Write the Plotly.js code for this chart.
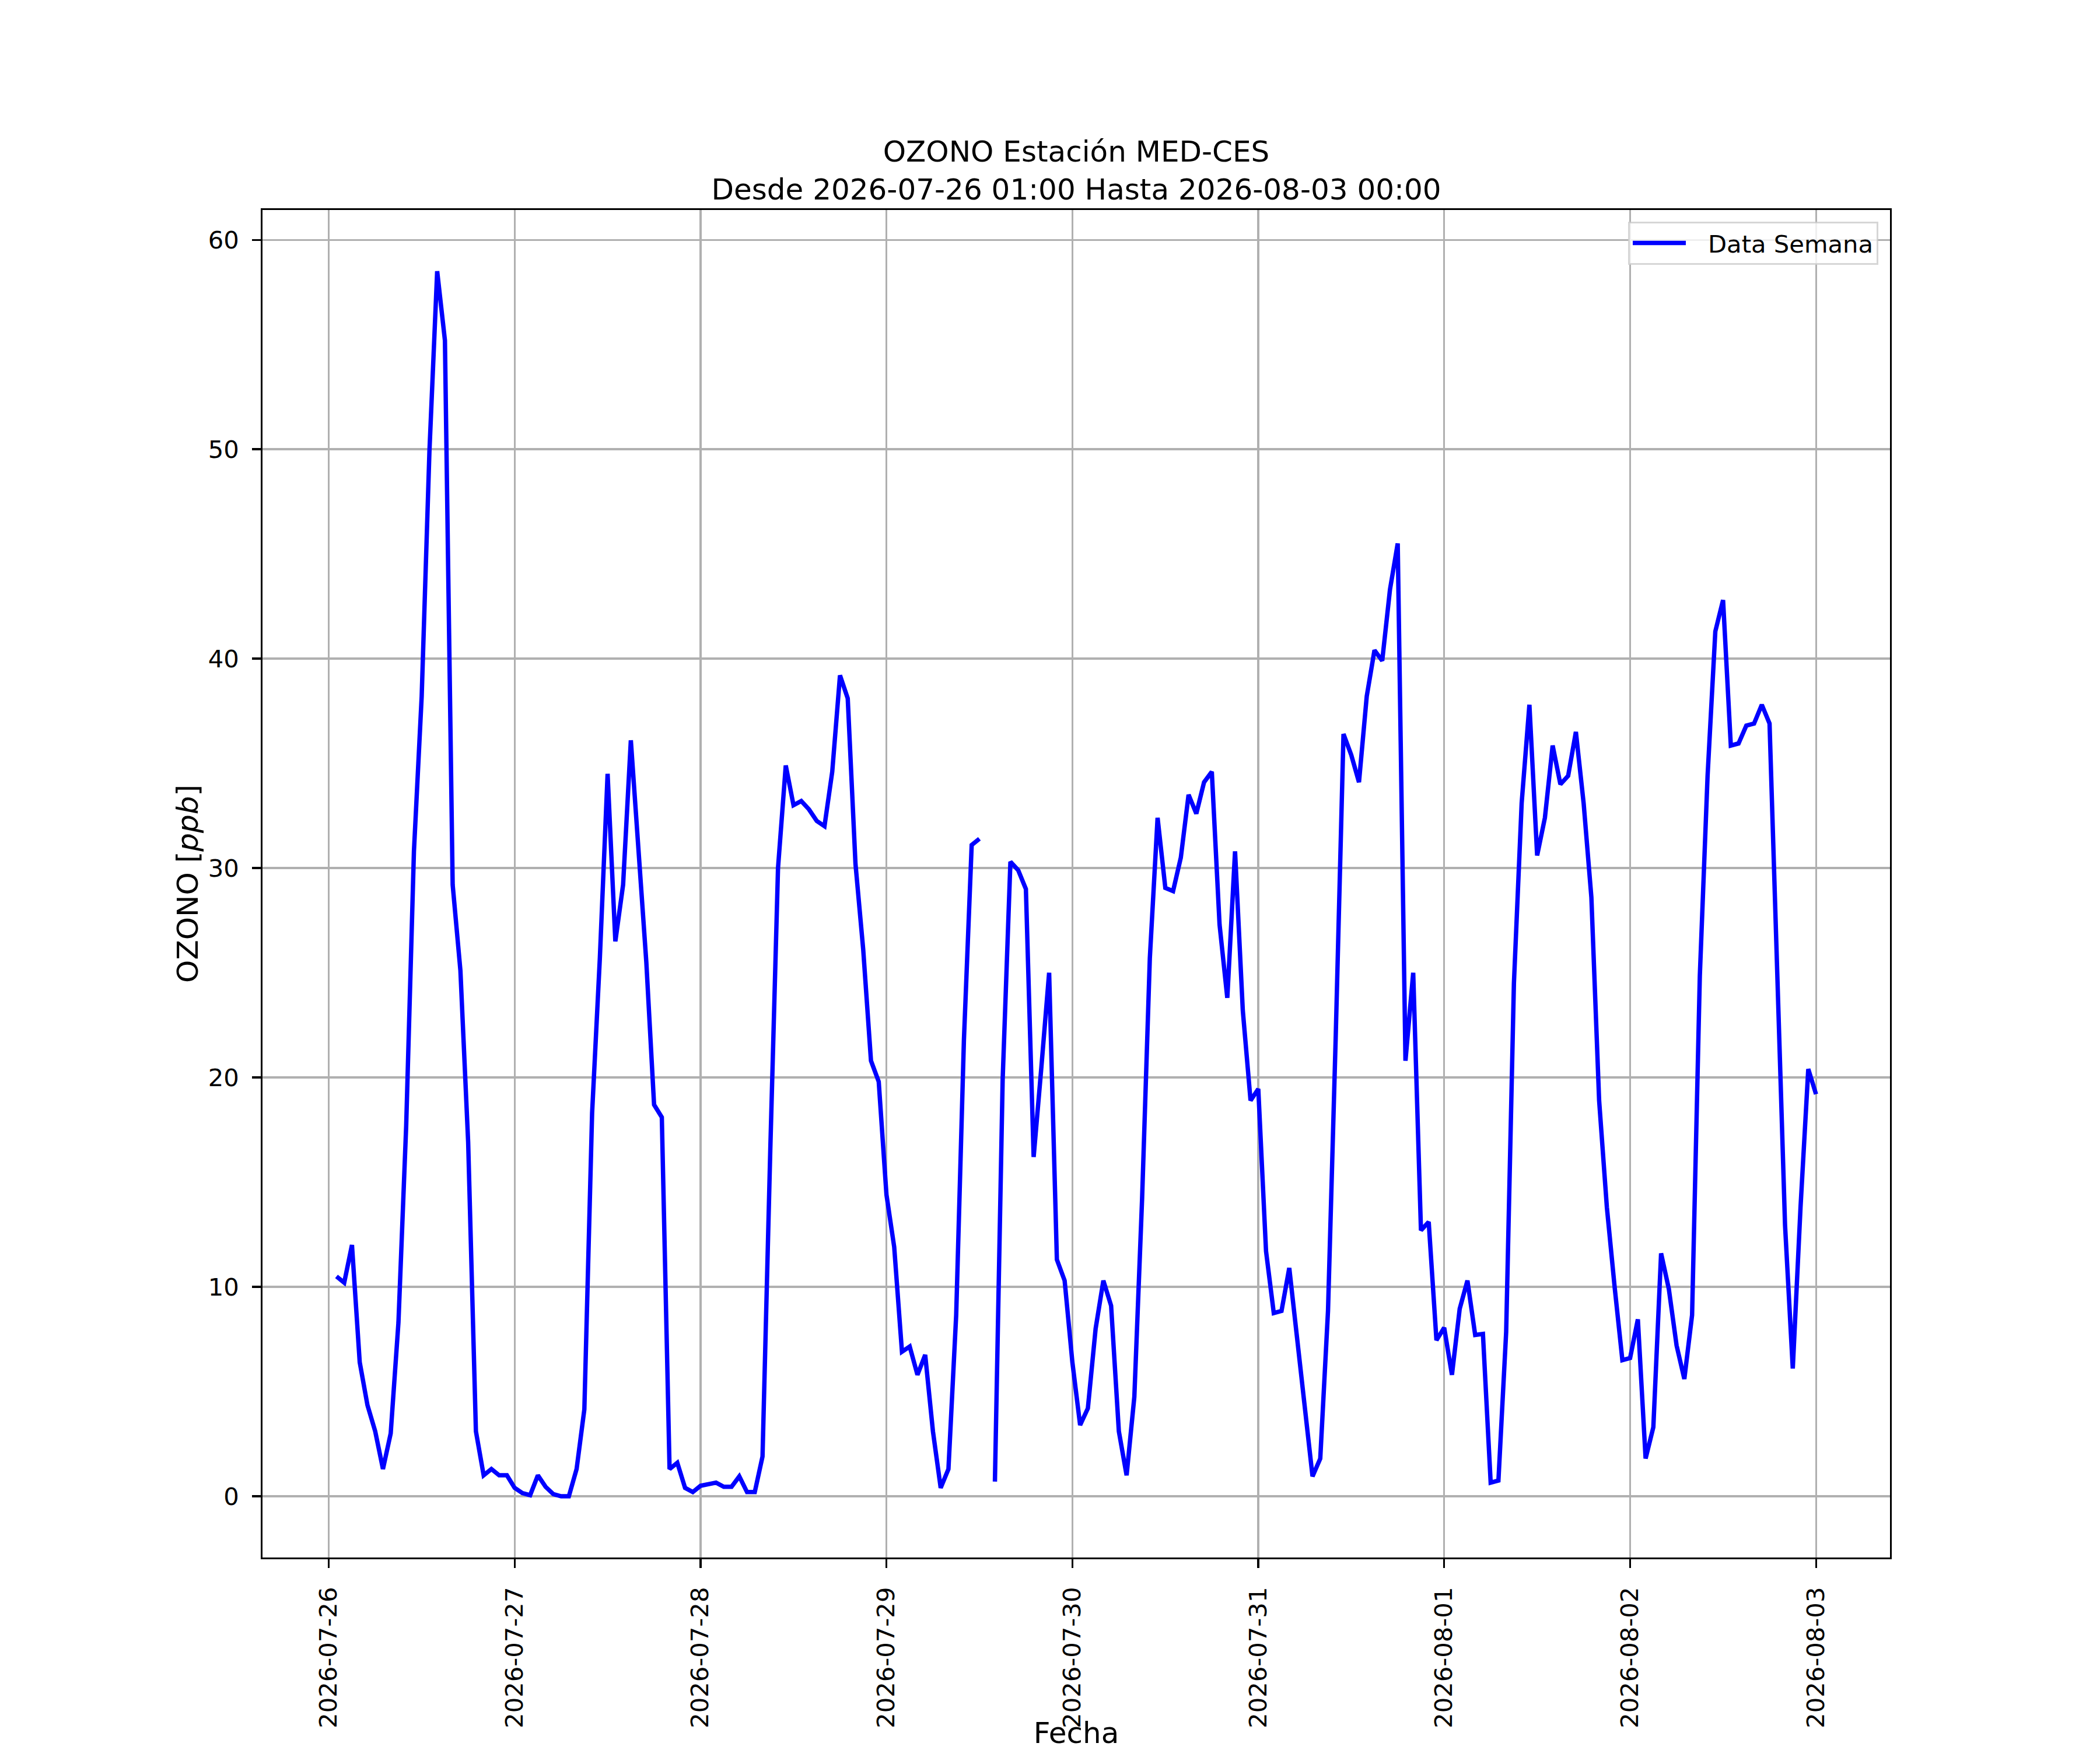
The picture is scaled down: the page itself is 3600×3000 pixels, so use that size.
<!DOCTYPE html>
<html>
<head>
<meta charset="utf-8">
<script src="https://cdn.plot.ly/plotly-3.0.1.min.js"></script>
<style>
  html, body { margin: 0; padding: 0; background: #ffffff; }
  #chart { width: 3600px; height: 3000px; }
</style>
</head>
<body>
<div id="chart"></div>
<script>
// Hourly ozone values, each array covers 01:00 of that day through 00:00 of the next day
const days = ['2026-07-26','2026-07-27','2026-07-28','2026-07-29','2026-07-30','2026-07-31','2026-08-01','2026-08-02'];
const day0726 = [10.5, 10.2, 12.0, 6.4, 4.35, 3.1, 1.3, 3.0, 8.3, 17.7, 30.8, 38.2, 49.9, 58.5, 55.2, 29.2, 25.1, 16.9, 3.1, 1.0, 1.3, 1.0, 1.0, 0.4];
const day0727 = [0.15, 0.05, 1.0, 0.45, 0.1, 0.0, 0.0, 1.3, 4.15, 18.3, 25.7, 34.5, 26.5, 29.2, 36.1, 30.4, 25.5, 18.7, 18.1, 1.3, 1.6, 0.4, 0.2, 0.5];
const day0728 = [0.6, 0.65, 0.45, 0.45, 0.95, 0.2, 0.2, 1.9, 16.5, 30.0, 34.9, 33.0, 33.2, 32.8, 32.25, 32.0, 34.6, 39.2, 38.1, 30.2, 26.1, 20.8, 19.8, 14.4];
const day0729 = [11.9, 6.9, 7.15, 5.8, 6.75, 3.1, 0.4, 1.3, 8.65, 21.8, 31.1, 31.4, null, 0.7, 19.9, 30.3, 29.9, 29.0, 16.2, 20.5, 25.0, 11.3, 10.3, 6.4];
const day0730 = [3.4, 4.2, 8.0, 10.3, 9.1, 3.1, 1.0, 4.75, 14.2, 25.7, 32.4, 29.05, 28.9, 30.5, 33.5, 32.6, 34.1, 34.6, 27.3, 23.8, 30.8, 23.2, 18.9, 19.45];
const day0731 = [11.7, 8.75, 8.85, 10.9, 7.6, 4.35, 0.95, 1.8, 8.85, 22.0, 36.4, 35.4, 34.1, 38.2, 40.4, 39.9, 43.3, 45.5, 20.8, 25.0, 12.7, 13.1, 7.45, 8.05];
const day0801 = [5.8, 8.95, 10.3, 7.7, 7.75, 0.65, 0.75, 7.85, 24.5, 33.1, 37.8, 30.6, 32.4, 35.85, 34.0, 34.4, 36.5, 33.1, 28.6, 18.9, 13.8, 10.0, 6.5, 6.6];
const day0802 = [8.45, 1.8, 3.3, 11.6, 9.9, 7.2, 5.6, 8.65, 24.85, 34.4, 41.3, 42.8, 35.85, 35.95, 36.8, 36.9, 37.8, 36.9, 24.9, 12.95, 6.1, 13.8, 20.4, 19.2];
const dayValues = [day0726, day0727, day0728, day0729, day0730, day0731, day0801, day0802];

const tickLabels = ['2026-07-26','2026-07-27','2026-07-28','2026-07-29','2026-07-30','2026-07-31','2026-08-01','2026-08-02','2026-08-03'];
const yTicks = [0, 10, 20, 30, 40, 50, 60];

const titleText = 'OZONO Estación MED-CES<br>Desde 2026-07-26 01:00 Hasta 2026-08-03 00:00';
const seriesName = 'Data Semana';

// Build timestamps (hour 1..24 of each day)
const xs = [];
const ys = [];
function pad(n) { return (n < 10 ? '0' : '') + n; }
days.forEach((d, i) => {
  const base = new Date(d + 'T00:00:00Z').getTime();
  dayValues[i].forEach((v, h) => {
    const t = new Date(base + (h + 1) * 3600000);
    xs.push(t.getUTCFullYear() + '-' + pad(t.getUTCMonth() + 1) + '-' + pad(t.getUTCDate()) + ' ' + pad(t.getUTCHours()) + ':00');
    ys.push(v);
  });
});

const FONT = 'DejaVu Sans, Liberation Sans, sans-serif';

const trace = {
  x: xs, y: ys, type: 'scatter', mode: 'lines', name: seriesName,
  line: { color: '#0000ff', width: 7.5 },
  connectgaps: false
};

const layout = {
  width: 3600, height: 3000,
  paper_bgcolor: '#ffffff', plot_bgcolor: '#ffffff',
  margin: { l: 450, r: 360, t: 360, b: 330, pad: 0 },
  font: { family: FONT, color: '#000000', size: 41.7 },
  showlegend: true,
  title: {
    text: titleText,
    font: { family: FONT, size: 50, color: '#000000' },
    x: 0.5, xref: 'paper', xanchor: 'center',
    y: 0.9077, yref: 'container', yanchor: 'top'
  },
  xaxis: {
    type: 'date',
    range: ['2026-07-25 15:27', '2026-08-03 09:33'],
    tickmode: 'array',
    tickvals: tickLabels,
    ticktext: tickLabels,
    tickangle: -90,
    ticks: 'outside', ticklen: 14.6, tickwidth: 3.3, tickcolor: '#000000',
    ticklabelstandoff: 16,
    tickfont: { family: FONT, size: 41.7, color: '#000000' },
    showgrid: true, gridcolor: '#b0b0b0', gridwidth: 3.3,
    showline: true, mirror: true, linecolor: '#000000', linewidth: 3.3,
    zeroline: false,
    automargin: false,
    title: { text: 'Fecha', font: { family: FONT, size: 50, color: '#000000' }, standoff: 22 }
  },
  yaxis: {
    range: [-2.925, 61.425],
    tickmode: 'array',
    tickvals: yTicks,
    ticktext: yTicks.map(String),
    ticks: 'outside', ticklen: 14.6, tickwidth: 3.3, tickcolor: '#000000',
    ticklabelstandoff: 14,
    tickfont: { family: FONT, size: 41.7, color: '#000000' },
    showgrid: true, gridcolor: '#b0b0b0', gridwidth: 3.3,
    showline: true, mirror: true, linecolor: '#000000', linewidth: 3.3,
    zeroline: false,
    automargin: false,
    title: { text: 'OZONO [<i>ppb</i>]', font: { family: FONT, size: 50, color: '#000000' }, standoff: 2 }
  },
  legend: {
    x: 0.99283, y: 0.99134, xanchor: 'right', yanchor: 'top',
    xref: 'paper', yref: 'paper',
    bgcolor: 'rgba(255,255,255,0.8)',
    bordercolor: 'rgba(204,204,204,0.8)', borderwidth: 3,
    itemwidth: 124,
    font: { family: FONT, size: 41.7, color: '#000000' }
  }
};

Plotly.newPlot('chart', [trace], layout, { staticPlot: true, displayModeBar: false }).then(function (gd) {
  // shorten the legend sample line so a gap separates it from the label, as in the original
  gd.querySelectorAll('.legend .legendlines path').forEach(function (p) {
    p.setAttribute('d', 'M5,0h91');
  });
});
</script>
</body>
</html>
